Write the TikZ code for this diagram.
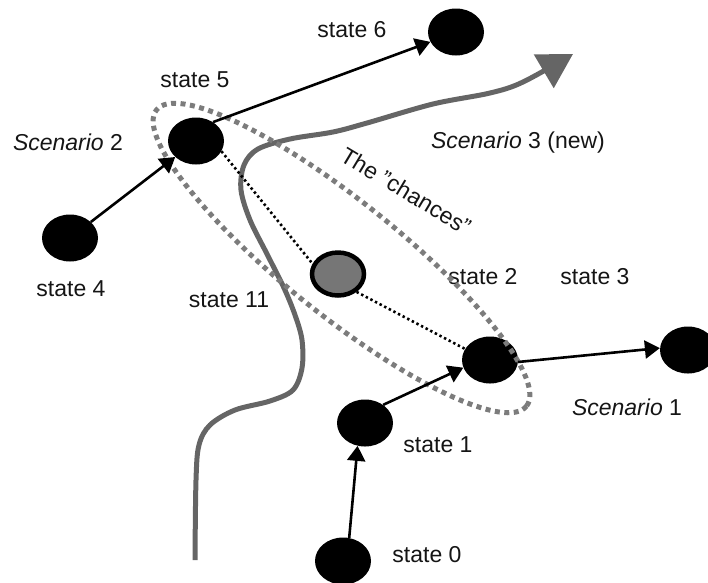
\documentclass[tikz,border=0pt]{standalone}
\usepackage{fontspec}
\setmainfont{Liberation Sans}
\usetikzlibrary{arrows.meta,shapes.geometric}
\definecolor{ink}{HTML}{151515}
\definecolor{pathgray}{HTML}{656565}
\definecolor{dashgray}{HTML}{7C7C7C}
\definecolor{nodegray}{HTML}{767676}
\begin{document}
\begin{tikzpicture}[x=1pt,y=-1pt,
  state/.style={ellipse, fill=black, minimum width=56pt, minimum height=47pt, inner sep=0pt},
  current/.style={ellipse, fill=nodegray, draw=black, line width=4.5pt,
    minimum width=52pt, minimum height=43pt, inner sep=0pt},
  lbl/.style={text=ink, font=\fontsize{23}{27}\selectfont, inner sep=0pt},
  move/.style={draw=black, line width=2.6pt, -{Triangle[length=15pt,width=18pt]}},
  link/.style={draw=black, line width=2.6pt, dash pattern=on 2.4pt off 2.8pt},
  chance/.style={draw=dashgray, line width=5pt, dash pattern=on 5pt off 4.5pt},
  scen/.style={draw=pathgray, line width=5pt, line join=round,
    -{Triangle[length=34pt,width=38pt]}}]
\useasboundingbox (0,0) rectangle (708,582);
\clip (0,0) rectangle (708,582);

% scenario 3: the new path
\coordinate (s3from) at (195,560);
\coordinate (s3to) at (573,54);
\draw[scen] plot[smooth, tension=0.55] coordinates {
  (s3from) (196,480) (199,445) (210,425) (235,410) (270,401) (293,390)
  (302,368) (302,340) (295,315) (284,288) (267,254) (250,220) (241,190)
  (244,165) (258,149) (290,139) (333,132) (367,123) (433,104) (490,93)
  (523,82) (s3to)};

% states
\node[state] (s0) at (343,561) {};
\node[state] (s1) at (365,423) {};
\node[state] (s2) at (490,360) {};
\node[state] (s3) at (688,350) {};
\node[state] (s4) at (70,238) {};
\node[state] (s5) at (196,141) {};
\node[state] (s6) at (456,32) {};
\node[current] (s11) at (338,274) {};

% labels
\node[lbl] (l6) at (352,30) {state 6};
\node[lbl] (l5) at (195,80) {state 5};
\node[lbl] (sc2) at (68,142) {\textit{Scenario} 2};
\node[lbl] (l4) at (71,289) {state 4};
\node[lbl] (l11) at (229,300) {state 11};
\node[lbl] (l2) at (483,277) {state 2};
\node[lbl] (l3) at (595,277) {state 3};
\node[lbl] (sc3) at (518,143) {\textit{Scenario} 3 (new)};
\node[lbl, rotate=-31] (ch) at (406,191) {The "chances"};
\node[lbl] (sc1) at (627,407) {\textit{Scenario} 1};
\node[lbl] (l1) at (438,445) {state 1};
\node[lbl] (l0) at (427,555) {state 0};

% the chances around the present state
\draw[chance, rotate around={-38.7:(341.5,258)}]
  (341.5,258) ellipse [x radius=237, y radius=57];

% links to the present state
\draw[link] (s5.338) -- (s11.158);
\draw[link] (s11.316) -- (s2.156);

% transitions
\draw[move] (s4) -- (s5);
\draw[move] (s5.48) -- (s6.201);
\draw[move] (s0.75) -- (s1.252);
\draw[move] (s1.45) -- (s2.196);
\draw[move] (s2.356) -- (s3.176);
\end{tikzpicture}
\end{document}
